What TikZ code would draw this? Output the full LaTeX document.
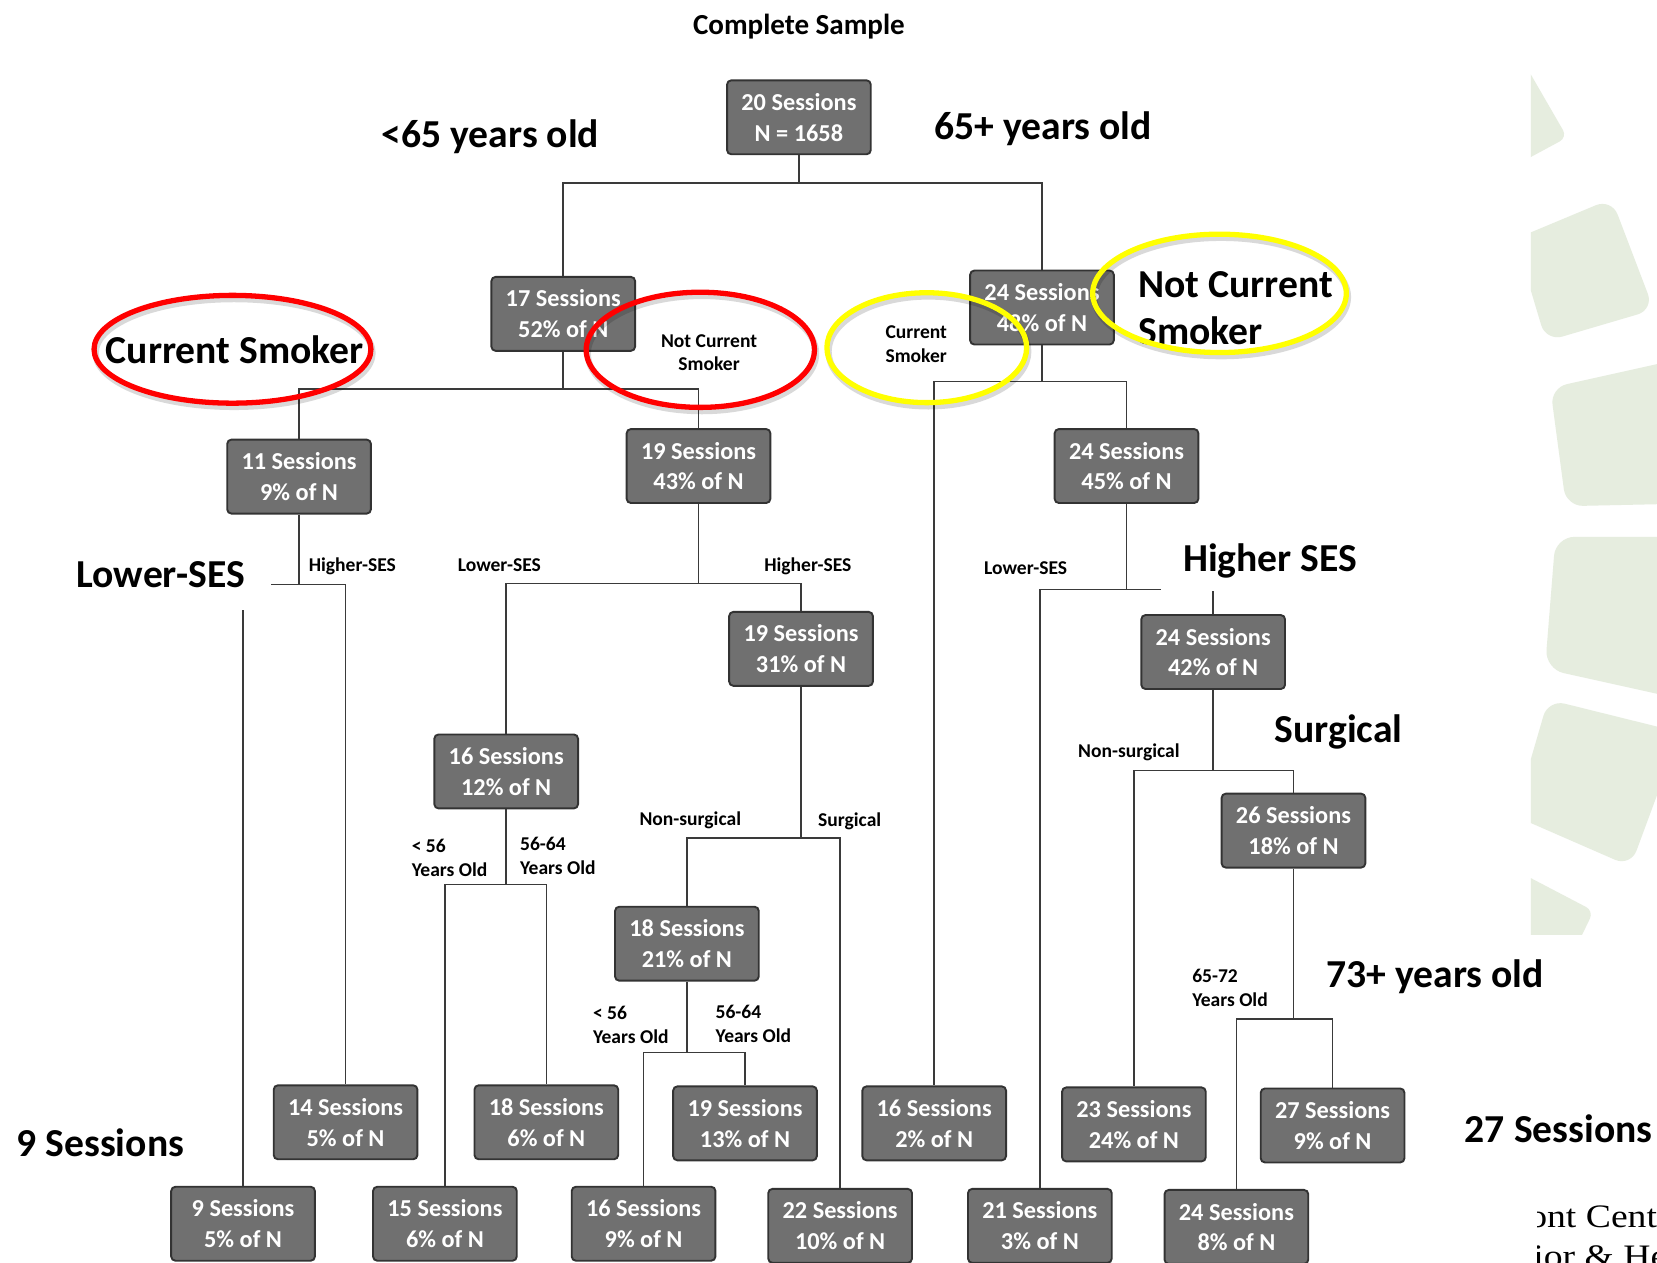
\documentclass[tikz,border=0pt]{standalone}
\usepackage{fontspec}
\setmainfont{Carlito}
\newfontfamily\footfont[FakeStretch=1.15]{Liberation Serif}
\definecolor{boxfill}{HTML}{707070}
\definecolor{boxline}{HTML}{333333}
\definecolor{linegray}{HTML}{3A3A3A}
\definecolor{leafgreen}{HTML}{E6EDDF}
\definecolor{ringred}{HTML}{FF0000}
\definecolor{ringyellow}{HTML}{FFFF00}
\begin{document}
\begin{tikzpicture}[x=1pt,y=-1pt,
  sess/.style={draw=boxline, line width=1.8pt, fill=boxfill, rounded corners=4pt,
    minimum width=136pt, minimum height=70pt, inner sep=0pt, align=center,
    text=white, font=\fontsize{23}{29}\selectfont\bfseries},
  conn/.style={draw=linegray, line width=1.5pt},
  smalllab/.style={inner sep=0pt, font=\fontsize{18.5}{22.5}\selectfont\bfseries},
  biglab/.style={inner sep=0pt, font=\fontsize{37.5}{44}\selectfont\bfseries},
  ring/.style={line width=5pt},
  ringshadow/.style={line width=6pt, draw=black, opacity=0.15},
  footlab/.style={inner sep=0pt, anchor=base west, font=\footfont\fontsize{31}{37}\selectfont}
]
\useasboundingbox (0,0) rectangle (1568,1195);
\fill[white] (0,0) rectangle (1568,1195);

% background leaf shapes
\begin{scope}
\clip (1448.7,0) rectangle (1568,884);
\fill[leafgreen, rounded corners=8pt] (1420,21) -- (1483,130) -- (1420,164) -- cycle;
\fill[leafgreen, rounded corners=16pt] (1434,226) -- (1525,188) -- (1565,293) -- (1463,323) -- cycle;
\fill[leafgreen, rounded corners=16pt] (1467,367) -- (1620,333) -- (1620,476) -- (1482,479) -- cycle;
\fill[leafgreen, rounded corners=18pt] (1472,508) -- (1620,508) -- (1620,668) -- (1462,633) -- cycle;
\fill[leafgreen, rounded corners=16pt] (1465,662) -- (1590,693) -- (1543,820) -- (1433,772) -- cycle;
\fill[leafgreen, rounded corners=8pt] (1420,816) -- (1508,862) -- (1480,920) -- (1420,930) -- cycle;
\end{scope}

% title
\node[font=\fontsize{27.5}{33}\selectfont\bfseries, anchor=base, inner sep=0pt] (title) at (756,33) {Complete Sample};

% session boxes
\node[sess] (r0) at (756,111) {20 Sessions\\N = 1658};
\node[sess] (a1) at (533,297) {17 Sessions\\52\% of N};
\node[sess] (a2) at (986,291) {24 Sessions\\48\% of N};
\node[sess] (b1) at (283,451) {11 Sessions\\9\% of N};
\node[sess] (b2) at (661,441) {19 Sessions\\43\% of N};
\node[sess] (b3) at (1066,441) {24 Sessions\\45\% of N};
\node[sess] (c1) at (758,614) {19 Sessions\\31\% of N};
\node[sess] (c2) at (1148,617) {24 Sessions\\42\% of N};
\node[sess] (d1) at (479,730) {16 Sessions\\12\% of N};
\node[sess] (d2) at (1224,786) {26 Sessions\\18\% of N};
\node[sess] (e1) at (650,893) {18 Sessions\\21\% of N};
\node[sess] (f1) at (327,1062) {14 Sessions\\5\% of N};
\node[sess] (f2) at (517,1062) {18 Sessions\\6\% of N};
\node[sess] (f3) at (705,1063) {19 Sessions\\13\% of N};
\node[sess] (f4) at (884,1063) {16 Sessions\\2\% of N};
\node[sess] (f5) at (1073,1064) {23 Sessions\\24\% of N};
\node[sess] (f6) at (1261,1065) {27 Sessions\\9\% of N};
\node[sess] (g1) at (230,1158) {9 Sessions\\5\% of N};
\node[sess] (g2) at (421,1158) {15 Sessions\\6\% of N};
\node[sess] (g3) at (609,1158) {16 Sessions\\9\% of N};
\node[sess] (g4) at (795,1160) {22 Sessions\\10\% of N};
\node[sess] (g5) at (984,1160) {21 Sessions\\3\% of N};
\node[sess] (g6) at (1170,1161) {24 Sessions\\8\% of N};

% junctions
\coordinate (jr) at (756,173);
\coordinate (ja1) at (533,368);
\coordinate (ja2) at (986,361);
\coordinate (jb1) at (283,553);
\coordinate (jb2) at (661,552);
\coordinate (jb3) at (1066,558);
\coordinate (jc1) at (758,793);
\coordinate (jc2) at (1148,729);
\coordinate (jd1) at (479,837);
\coordinate (jd2) at (1224,964);
\coordinate (je1) at (650,996);

% connectors
\draw[conn] (r0) -- (jr) -| (a1);
\draw[conn] (jr) -| (a2);
\draw[conn] (a1) -- (ja1) -| (b1);
\draw[conn] (ja1) -| (b2);
\draw[conn] (a2) -- (ja2) -| (f4);
\draw[conn] (ja2) -| (b3);
\draw[conn] (b1) -- (jb1) -| (g1);
\draw[conn] (jb1) -| (f1);
\draw[conn] (b2) -- (jb2) -| (d1);
\draw[conn] (jb2) -| (c1);
\draw[conn] (b3) -- (jb3) -| (g5);
\draw[conn] (jb3) -| (c2);
\draw[conn] (c1) -- (jc1) -| (e1);
\draw[conn] (jc1) -| (g4);
\draw[conn] (c2) -- (jc2) -| (f5);
\draw[conn] (jc2) -| (d2);
\draw[conn] (d1) -- (jd1) -| (g2);
\draw[conn] (jd1) -| (f2);
\draw[conn] (d2) -- (jd2) -| (g6);
\draw[conn] (jd2) -| (f6);
\draw[conn] (e1) -- (je1) -| (g3);
\draw[conn] (je1) -| (f3);

% small branch labels
\node[smalllab, anchor=base west] (s1) at (292,541) {Higher-SES};
\node[smalllab, anchor=base west] (s2) at (433,541) {Lower-SES};
\node[smalllab, anchor=base west] (s3) at (723,541) {Higher-SES};
\node[smalllab, anchor=base west] (s4) at (931,544) {Lower-SES};
\node[smalllab, anchor=base west] (s5) at (1020,717) {Non-surgical};
\node[smalllab, anchor=base west] (s6) at (605,781) {Non-surgical};
\node[smalllab, anchor=base west] (s7) at (774,782) {Surgical};
\node[smalllab, anchor=north west, align=left] (s8) at (389.5,794.3) {< 56\\Years Old};
\node[smalllab, anchor=north west, align=left] (s9) at (492,792.3) {56-64\\Years Old};
\node[smalllab, anchor=north west, align=left] (s10) at (561,951.8) {< 56\\Years Old};
\node[smalllab, anchor=north west, align=left] (s11) at (677,950.8) {56-64\\Years Old};
\node[smalllab, anchor=north west, align=left] (s12) at (1128,917.3) {65-72\\Years Old};
\node[smalllab, anchor=north, align=center] (s13) at (671,316.2) {Not Current\\Smoker};
\node[smalllab, anchor=north, align=center] (s14) at (867,308.2) {Current\\Smoker};

% big annotation labels
\node[biglab, anchor=base west] (L1) at (361,140) {<65 years old};
\node[biglab, anchor=base west] (L2) at (884,132) {65+ years old};
\node[biglab, anchor=base west] (L3) at (100,344) {Current Smoker};
\node[biglab, anchor=north west, align=left] (L4) at (1077,256.8) {Not Current\\Smoker};
\node[biglab, fill=white, inner xsep=25pt, inner ysep=21pt, anchor=base] (L5) at (152,556) {Lower-SES};
\node[biglab, fill=white, inner xsep=21pt, inner ysep=12pt, anchor=base] (L6) at (1202,541) {Higher SES};
\node[biglab, anchor=base west] (L7) at (1206,703) {Surgical};
\node[biglab, anchor=base west] (L8) at (1255,934) {73+ years old};
\node[biglab, anchor=base west] (L9) at (15.5,1094) {9 Sessions};
\node[biglab, anchor=base west] (L10) at (1386,1081) {27 Sessions};

% highlight rings
\draw[ringshadow] (221.5,334) ellipse [x radius=131pt, y radius=51pt];
\draw[ring, draw=ringred] (220,330.5) ellipse [x radius=131pt, y radius=51pt];
\draw[ringshadow] (664.2,334.5) ellipse [x radius=108pt, y radius=54.5pt];
\draw[ring, draw=ringred] (662.7,331) ellipse [x radius=108pt, y radius=54.5pt];
\draw[ringshadow] (878.5,332.5) ellipse [x radius=94.5pt, y radius=52pt];
\draw[ring, draw=ringyellow] (877,329) ellipse [x radius=94.5pt, y radius=52pt];
\draw[ringshadow] (1155.5,281) ellipse [x radius=120pt, y radius=56pt];
\draw[ring, draw=ringyellow] (1154,277.6) ellipse [x radius=120pt, y radius=56pt];

% footer, clipped as in the reference
\begin{scope}
\clip (1455,1120) rectangle (1568,1195);
\node[footlab] (ft1) at (1446,1162) {ont Center for};
\node[footlab] (ft2) at (1433,1199) {vior \& Health};
\end{scope}
\end{tikzpicture}
\end{document}
